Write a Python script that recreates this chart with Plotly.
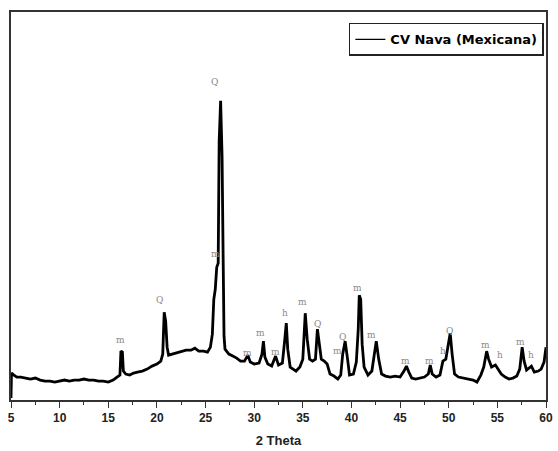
import plotly.graph_objects as go

# 2 Theta (degrees)
two_theta = [5.00, 5.05, 5.3, 5.6, 6.0, 6.5, 7.0, 7.5, 8.0, 8.5, 9.0, 9.5, 10.0, 10.5, 11.0,
             11.5, 12.0, 12.5, 13.0, 13.5, 14.0, 14.5, 15.0, 15.5, 15.9, 16.2, 16.3, 16.45,
             16.55, 16.8, 17.2, 17.6, 18.0, 18.5, 19.0, 19.5, 20.0, 20.4, 20.6, 20.75, 20.9,
             21.05, 21.2, 21.6, 22.0, 22.5, 23.0, 23.5, 23.9, 24.3, 24.8, 25.2, 25.5, 25.7,
             25.85, 26.0, 26.15, 26.3, 26.4, 26.55, 26.7, 26.8, 26.9, 27.0, 27.4, 27.8, 28.2,
             28.6, 29.0, 29.35, 29.6, 30.0, 30.5, 30.8, 30.95, 31.1, 31.4, 31.8, 32.2, 32.5,
             32.9, 33.15, 33.3, 33.45, 33.7, 34.0, 34.3, 34.7, 35.0, 35.25, 35.45, 35.7, 36.0,
             36.3, 36.5, 36.7, 36.9, 37.2, 37.5, 37.8, 38.2, 38.6, 38.9, 39.1, 39.35, 39.6,
             39.8, 40.2, 40.5, 40.7, 40.8, 40.95, 41.1, 41.3, 41.7, 42.1, 42.4, 42.55, 42.8,
             43.1, 43.5, 44.0, 44.5, 45.0, 45.4, 45.65, 45.9, 46.2, 46.6, 47.0, 47.5, 47.9,
             48.1, 48.3, 48.7, 49.1, 49.4, 49.7, 49.95, 50.15, 50.35, 50.6, 51.0, 51.5, 52.0,
             52.5, 52.9, 53.3, 53.6, 53.9, 54.1, 54.4, 54.8, 55.1, 55.4, 55.8, 56.2, 56.6,
             57.0, 57.3, 57.55, 57.75, 58.0, 58.5, 58.8, 59.2, 59.5, 59.8, 60.0]

# Intensity (a.u.)
intensity = [2, 27, 25, 23, 23, 22, 21, 22, 20, 19, 19, 18, 19, 20, 19,
             20, 20, 21, 20, 20, 19, 19, 18, 20, 23, 25, 49, 48,
             29, 26, 25, 27, 28, 29, 31, 34, 36, 39, 46, 88, 79,
             53, 45, 46, 47, 49, 50, 50, 52, 49, 49, 48, 53, 66,
             101, 111, 133, 137, 259, 300, 244, 151, 64, 51, 46, 44, 42,
             39, 39, 45, 38, 36, 37, 46, 59, 43, 36, 34, 44, 35,
             37, 61, 77, 51, 33, 31, 29, 33, 41, 87, 61, 41, 39,
             41, 71, 56, 41, 39, 36, 26, 24, 21, 25, 46, 59, 41,
             25, 26, 38, 71, 105, 101, 56, 33, 25, 29, 51, 59, 41,
             26, 24, 23, 24, 23, 29, 34, 28, 22, 21, 22, 23, 26,
             35, 26, 23, 25, 39, 41, 56, 67, 46, 26, 23, 22, 21,
             20, 18, 25, 33, 49, 41, 33, 35, 31, 26, 23, 21, 22,
             24, 31, 53, 39, 30, 34, 28, 29, 31, 38, 53]

# Phase labels
label_text = ["m", "Q", "Q", "m", "m", "m", "m", "h", "m", "Q", "m", "Q",
              "m", "m", "m", "m", "h", "Q", "m", "h", "m", "h"]
label_x = [16.3, 20.29, 25.97, 26.03, 29.32, 30.6, 32.19, 33.14, 35.0, 36.46, 38.55, 39.06,
           40.58, 42.04, 45.59, 48.02, 49.38, 50.05, 53.78, 55.23, 57.4, 58.45]
label_y = [60, 100, 319, 146, 47, 67, 48, 87, 98, 76, 49, 63,
           112, 65, 39, 39, 49, 69, 55, 45, 58, 45]

series_name = "CV Nava (Mexicana)"

fig = go.Figure()
fig.add_trace(go.Scatter(x=two_theta, y=intensity, mode="lines", name=series_name,
                         showlegend=False, legendgroup="s",
                         line=dict(color="black", width=2.8)))
# legend entry (thin line sample as in the reference)
fig.add_trace(go.Scatter(x=[None], y=[None], mode="lines", legendgroup="s",
                         name="<b>" + series_name + "</b>",
                         line=dict(color="black", width=1.2)))

for t, xx, yy in zip(label_text, label_x, label_y):
    fig.add_annotation(x=xx, y=yy, text=t, showarrow=False,
                       font=dict(family="DejaVu Serif", size=9, color="#8a8a8a"))

fig.update_layout(
    width=558, height=451,
    margin=dict(l=11, r=5, t=12, b=50),
    paper_bgcolor="white", plot_bgcolor="white",
    showlegend=True,
    legend=dict(x=0.996, y=0.972, xanchor="right", yanchor="top",
                bordercolor="#222", borderwidth=1.5, bgcolor="white",
                font=dict(family="DejaVu Sans", size=13, color="black"),
                itemwidth=30, tracegroupgap=0, itemclick=False),
    xaxis=dict(range=[5, 60], dtick=5, tick0=5, showline=True, mirror=True,
               linecolor="#333", linewidth=1.5, ticks="outside", ticklen=6,
               tickwidth=1.2, tickcolor="#333", showgrid=False, zeroline=False,
               tickfont=dict(family="Liberation Sans", size=12, color="#222"),
               tickprefix="<b>", ticksuffix="</b>",
               minor=dict(dtick=2.5, tick0=5, ticks="outside", ticklen=3,
                          tickcolor="#333", showgrid=False),
               title=dict(text="<b>2 Theta</b>", standoff=12,
                          font=dict(family="Liberation Sans", size=13, color="#222"))),
    yaxis=dict(range=[0, 389], showline=True, mirror=True, linecolor="#333",
               linewidth=1.5, showticklabels=False, ticks="", showgrid=False,
               zeroline=False),
)

fig.write_html("out.html")
